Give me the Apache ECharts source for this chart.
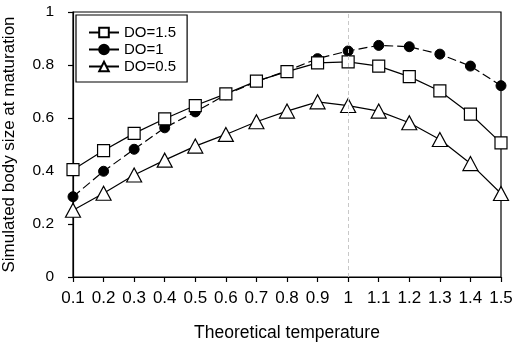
<!DOCTYPE html>
<html><head><meta charset="utf-8">
<script src="https://cdn.jsdelivr.net/npm/echarts@6/dist/echarts.min.js"></script>
<style>html,body{margin:0;padding:0;background:#fff}#c{width:516px;height:342px}</style>
</head><body><div id="c"></div>
<script>
const categories = ['0.1','0.2','0.3','0.4','0.5','0.6','0.7','0.8','0.9','1','1.1','1.2','1.3','1.4','1.5'];
const do15 = [0.405,0.477,0.542,0.597,0.647,0.691,0.739,0.775,0.808,0.812,0.796,0.756,0.702,0.615,0.506];
const do10 = [0.303,0.399,0.482,0.563,0.623,0.688,0.737,0.778,0.824,0.853,0.874,0.869,0.841,0.796,0.722];
const do05 = [0.252,0.316,0.385,0.441,0.494,0.538,0.586,0.626,0.661,0.647,0.626,0.582,0.519,0.428,0.315];
const yTicks = [0,0.2,0.4,0.6,0.8,1];

const chart = echarts.init(document.getElementById('c'));
const font = 'Liberation Sans, Arial, sans-serif';
chart.setOption({
  animation:false,
  backgroundColor:'#fff',
  textStyle:{fontFamily:font},
  grid:{left:73,right:15,top:12,bottom:65,containLabel:false,outerBoundsMode:'none',
    show:true,borderColor:'#000',borderWidth:1.2,backgroundColor:'transparent'},
  legend:{
    data:['DO=1.5','DO=1','DO=0.5'],
    orient:'vertical',left:76,top:15,
    borderColor:'#000',borderWidth:1.2,padding:[10,11,8,12],
    itemGap:2,itemWidth:30,itemHeight:12,
    lineStyle:{type:'solid'},
    textStyle:{fontSize:15,color:'#000',fontFamily:font}
  },
  xAxis:{
    type:'category',data:categories,boundaryGap:false,
    name:'Theoretical temperature',nameLocation:'middle',nameGap:47,
    nameTextStyle:{fontSize:17.5,color:'#000',fontFamily:font},
    axisLine:{lineStyle:{color:'#000',width:1.2}},
    axisTick:{show:true,inside:false,length:5,alignWithLabel:true,lineStyle:{color:'#000',width:1.2}},
    axisLabel:{fontSize:17,color:'#000',margin:13,interval:0,fontFamily:font},
    splitLine:{show:false}
  },
  yAxis:{
    type:'value',min:0,max:1,interval:0.2,
    name:'Simulated body size at maturation',nameLocation:'middle',nameGap:55,
    nameTextStyle:{fontSize:17,color:'#000',fontFamily:font},
    axisLine:{show:true,lineStyle:{color:'#000',width:1.2}},
    axisTick:{show:true,inside:false,length:5,lineStyle:{color:'#000',width:1.2}},
    axisLabel:{fontSize:15.5,color:'#000',margin:19,fontFamily:font,
      formatter:v=>{const t=yTicks.find(x=>Math.abs(x-v)<1e-9);return t===undefined?'':String(t);}},
    splitLine:{show:false}
  },
  series:[
    {name:'DO=1',type:'line',data:do10,z:2,symbol:'circle',symbolSize:10,
      lineStyle:{color:'#000',width:1.2,type:[9,4]},itemStyle:{color:'#000',borderColor:'#000',borderWidth:1}},
    {name:'DO=0.5',type:'line',data:do05,z:3,symbol:'triangle',symbolSize:[15,14],
      lineStyle:{color:'#000',width:1.2},itemStyle:{color:'#fff',borderColor:'#000',borderWidth:1.2},
      markLine:{silent:true,symbol:'none',label:{show:false},
        lineStyle:{color:'#c8c8c8',type:[4,3],width:1},data:[{xAxis:'1'}]}},
    {name:'DO=1.5',type:'line',data:do15,z:4,symbol:'rect',symbolSize:12,
      lineStyle:{color:'#000',width:1.2},itemStyle:{color:'#fff',borderColor:'#000',borderWidth:1.2}}
  ]
});
</script></body></html>
